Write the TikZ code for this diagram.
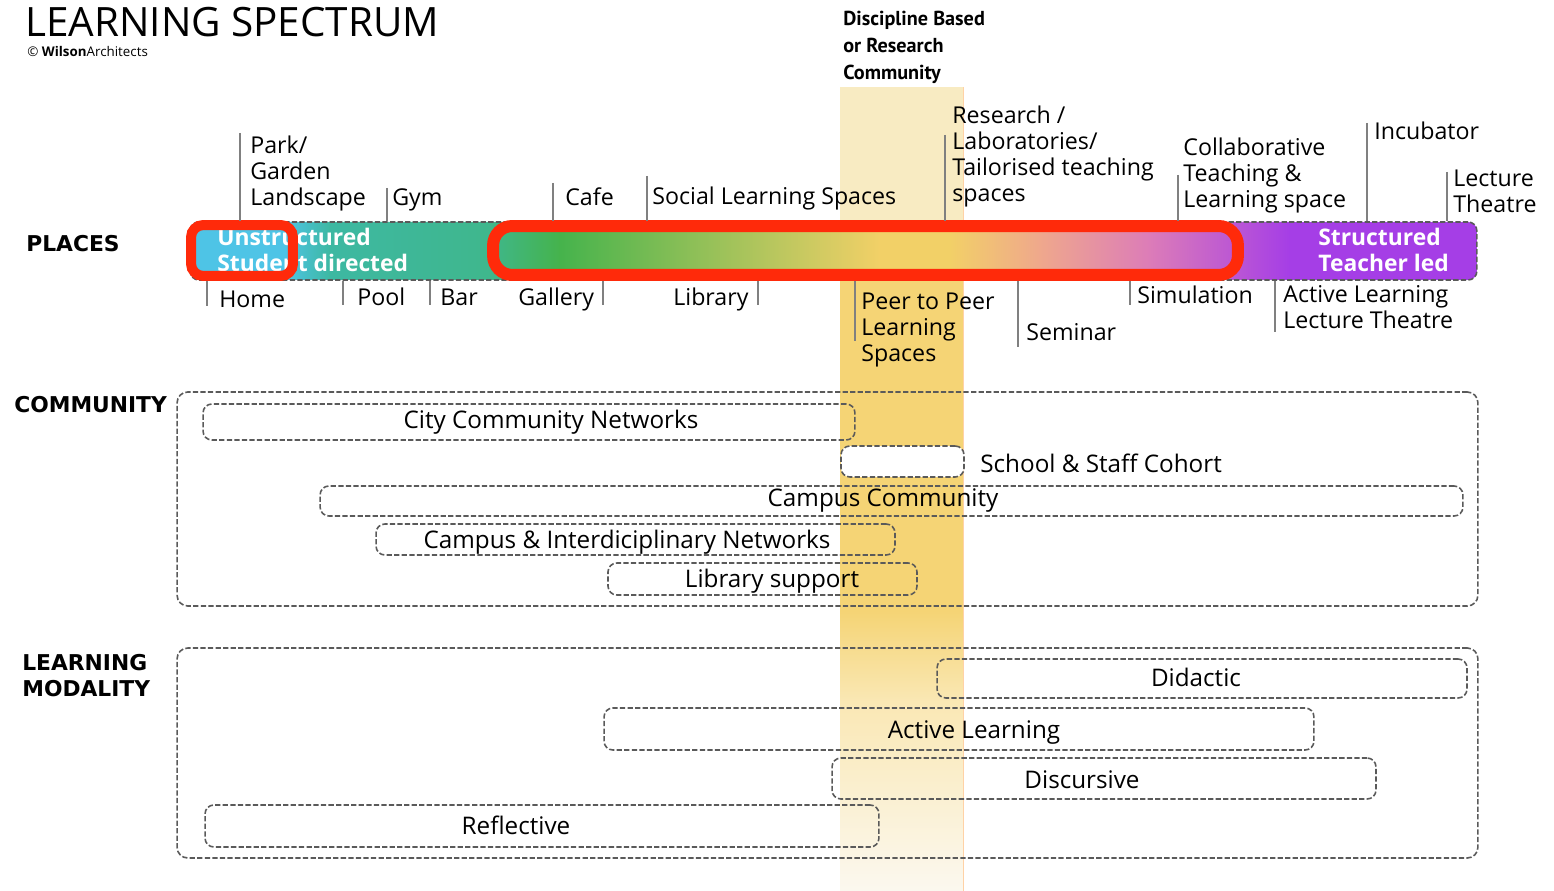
\documentclass[tikz,border=0pt]{standalone}
\usepackage{fontspec}
\setmainfont{Open Sans}
\newfontfamily\headfont{DejaVu Sans}
\newfontfamily\discfont{PT Sans}
\usetikzlibrary{positioning}

\definecolor{bandPale}{HTML}{F8EBC2}
\definecolor{bandGold}{HTML}{F5D475}
\definecolor{bandFade}{HTML}{FBF8EF}
\definecolor{barCyan}{HTML}{4EC4E6}
\definecolor{barTeal}{HTML}{3DB8A2}
\definecolor{barGreen}{HTML}{45B34C}
\definecolor{barYellow}{HTML}{F2D067}
\definecolor{barPeach}{HTML}{EFA88C}
\definecolor{barPink}{HTML}{DC7CB8}
\definecolor{barPurple}{HTML}{A53EE6}
\definecolor{ringRed}{HTML}{FF2A0A}
\definecolor{dashGray}{HTML}{5A5A5A}

\tikzset{
  place/.style={font=\fontsize{13.2}{14.8}\selectfont, align=left, inner sep=0pt, anchor=base west},
  tick/.style={draw=gray, line width=0.7pt},
  group/.style={draw=dashGray, line width=0.9pt, dash pattern=on 3pt off 1.3pt, rounded corners=6pt, inner sep=0pt},
  member/.style={group, rounded corners=5pt},
  boxtext/.style={font=\fontsize{13.8}{15}\selectfont, inner sep=0pt, anchor=base},
  heading/.style={font=\headfont\bfseries\fontsize{12.4}{14.8}\selectfont, align=left, inner sep=0pt, anchor=base west},
  bartext/.style={font=\bfseries\fontsize{13}{14.8}\selectfont, text=white, align=left, inner sep=0pt, anchor=base west},
  ring/.style={draw=ringRed, inner sep=0pt},
}

\begin{document}
\begin{tikzpicture}[x=0.02cm, y=-0.02cm]
\useasboundingbox (0,0) rectangle (1554,891);

% Discipline band behind everything
\fill[bandPale] (840,87) rectangle (963,222);
\fill[bandGold] (840,222) rectangle (963,612);
\shade[top color=bandGold, bottom color=bandGold!55!white] (840,611) rectangle (963,700);
\shade[top color=bandGold!55!white, bottom color=bandFade] (840,699) rectangle (963,891);
\draw[orange!35, line width=0.4pt] (963,87) -- (963,891);

% Title
\node[inner sep=0pt, anchor=base west, font=\fontsize{23}{26}\selectfont] (title) at (25,37) {LEARNING SPECTRUM};
\node[inner sep=0pt, anchor=base west, font=\fontsize{7.6}{9}\selectfont] (copyright) at (27,57) {\textcopyright\ \textbf{Wilson}Architects};
\node[inner sep=0pt, anchor=base west, align=left, font=\discfont\bfseries\fontsize{11.5}{15.4}\selectfont] (discipline) at (843,80) {Discipline Based\\or Research\\Community};

% Headings
\node[heading] (places) at (26,252) {PLACES};
\node[heading] (community) at (14,413) {COMMUNITY};
\node[heading] (modality) at (22,696) {LEARNING\\MODALITY};

% Spectrum bar
\begin{scope}
  \clip[rounded corners=5pt] (190,222) rectangle (1477,280);
  \fill[barCyan] (190,222) rectangle (286,280);
  \shade[left color=barCyan, right color=barTeal] (285,222) rectangle (330,280);
  \shade[left color=barTeal, right color=barTeal!75!barGreen] (329,222) rectangle (490,280);
  \shade[left color=barTeal!75!barGreen, right color=barGreen] (489,222) rectangle (560,280);
  \shade[left color=barGreen, right color=barYellow] (559,222) rectangle (880,280);
  \fill[barYellow] (879,222) rectangle (950,280);
  \shade[left color=barYellow, right color=barPeach] (949,222) rectangle (1040,280);
  \shade[left color=barPeach, right color=barPink] (1039,222) rectangle (1150,280);
  \shade[left color=barPink, right color=barPurple] (1149,222) rectangle (1290,280);
  \fill[barPurple] (1289,222) rectangle (1477,280);
\end{scope}
\node[group, rounded corners=5pt, minimum width=25.74cm, minimum height=1.16cm] (bar) at (833.5,251) {};
\node[bartext] (unstructured) at (217,272) {Unstructured\\Student directed};
\node[bartext] (structured) at (1318,272) {Structured\\Teacher led};

% Highlight rings
\node[ring, line width=0.2cm, rounded corners=7pt, minimum width=2.04cm, minimum height=1.02cm] (ringLeft) at (242,250.5) {};
\node[ring, line width=0.24cm, rounded corners=11pt, minimum width=14.9cm, minimum height=0.98cm] (ringMiddle) at (865.5,250.5) {};

% Places above the bar
\node[place] (park) at (250,206) {Park/\\Garden\\Landscape};
\node[place] (gym) at (392,206) {Gym};
\node[place] (cafe) at (565,206) {Cafe};
\node[place] (social) at (652,205) {Social Learning Spaces};
\node[place] (research) at (952,202) {Research /\\Laboratories/\\Tailorised teaching\\spaces};
\node[place] (collab) at (1183,208) {Collaborative\\Teaching \&\\Learning space};
\node[place] (incubator) at (1374,140) {Incubator};
\node[place] (lecture) at (1453,213) {Lecture\\Theatre};

% Places below the bar
\node[place] (home) at (219,308) {Home};
\node[place] (pool) at (357,306) {Pool};
\node[place] (barPlace) at (440,306) {Bar};
\node[place] (gallery) at (518,306) {Gallery};
\node[place] (library) at (673,306) {Library};
\node[place] (peer) at (861,362) {Peer to Peer\\Learning\\Spaces};
\node[place] (seminar) at (1026,341) {Seminar};
\node[place] (simulation) at (1137,304) {Simulation};
\node[place] (activeLT) at (1283,329) {Active Learning\\Lecture Theatre};

% Tick lines
\coordinate (parkTick) at (240,133);
\coordinate (gymTick) at (387,188);
\coordinate (cafeTick) at (553,183);
\coordinate (socialTick) at (647,176);
\coordinate (researchTick) at (945,135);
\coordinate (collabTick) at (1178,175);
\coordinate (incubatorTick) at (1367,123);
\coordinate (lectureTick) at (1447,172);
\draw[tick] (parkTick) -- (parkTick |- bar.north);
\draw[tick] (gymTick) -- (gymTick |- bar.north);
\draw[tick] (cafeTick) -- (cafeTick |- bar.north);
\draw[tick] (socialTick) -- (socialTick |- bar.north);
\draw[tick] (researchTick) -- (researchTick |- bar.north);
\draw[tick] (collabTick) -- (collabTick |- bar.north);
\draw[tick] (incubatorTick) -- (incubatorTick |- bar.north);
\draw[tick] (lectureTick) -- (lectureTick |- bar.north);

\coordinate (homeTick) at (207,306);
\coordinate (poolTick) at (343,305);
\coordinate (barTick) at (430,305);
\coordinate (galleryTick) at (603,305);
\coordinate (libraryTick) at (758,305);
\coordinate (peerTick) at (855,341);
\coordinate (seminarTick) at (1018,347);
\coordinate (simulationTick) at (1130,305);
\coordinate (activeTick) at (1275,332);
\draw[tick] (bar.south -| homeTick) -- (homeTick);
\draw[tick] (bar.south -| poolTick) -- (poolTick);
\draw[tick] (bar.south -| barTick) -- (barTick);
\draw[tick] (bar.south -| galleryTick) -- (galleryTick);
\draw[tick] (bar.south -| libraryTick) -- (libraryTick);
\draw[tick] (bar.south -| peerTick) -- (peerTick);
\draw[tick] (bar.south -| seminarTick) -- (seminarTick);
\draw[tick] (bar.south -| simulationTick) -- (simulationTick);
\draw[tick] (bar.south -| activeTick) -- (activeTick);

% Community
\node[group, minimum width=26.02cm, minimum height=4.28cm] (communityBox) at (827.5,499) {};
\node[member, minimum width=13.04cm, minimum height=0.72cm] (city) at (529,422) {};
\node[member, fill=white, minimum width=2.46cm, minimum height=0.62cm] (school) at (902.5,461.5) {};
\node[member, minimum width=22.86cm, minimum height=0.6cm] (campus) at (891.5,501) {};
\node[member, minimum width=10.38cm, minimum height=0.62cm] (interdis) at (635.5,539.5) {};
\node[member, minimum width=6.18cm, minimum height=0.64cm] (librarySupport) at (762.5,579) {};
\node[boxtext] (cityText) at (551,429) {City Community Networks};
\node[boxtext, anchor=base west] (schoolText) at (980,472) {School \& Staff Cohort};
\node[boxtext] (campusText) at (883,506) {Campus Community};
\node[boxtext] (interdisText) at (627,548) {Campus \& Interdiciplinary Networks};
\node[boxtext] (libraryText) at (772,587) {Library support};

% Learning modality
\node[group, minimum width=26.02cm, minimum height=4.2cm] (modalityBox) at (827.5,753) {};
\node[member, minimum width=10.6cm, minimum height=0.78cm] (didactic) at (1202,678.5) {};
\node[member, minimum width=14.2cm, minimum height=0.84cm] (activeBox) at (959,729) {};
\node[member, minimum width=10.88cm, minimum height=0.82cm] (discursive) at (1104,778.5) {};
\node[member, minimum width=13.48cm, minimum height=0.84cm] (reflective) at (542,826) {};
\node[boxtext] (didacticText) at (1196,686) {Didactic};
\node[boxtext] (activeText) at (974,738) {Active Learning};
\node[boxtext] (discursiveText) at (1082,788) {Discursive};
\node[boxtext] (reflectiveText) at (516,834) {Reflective};

\end{tikzpicture}
\end{document}
